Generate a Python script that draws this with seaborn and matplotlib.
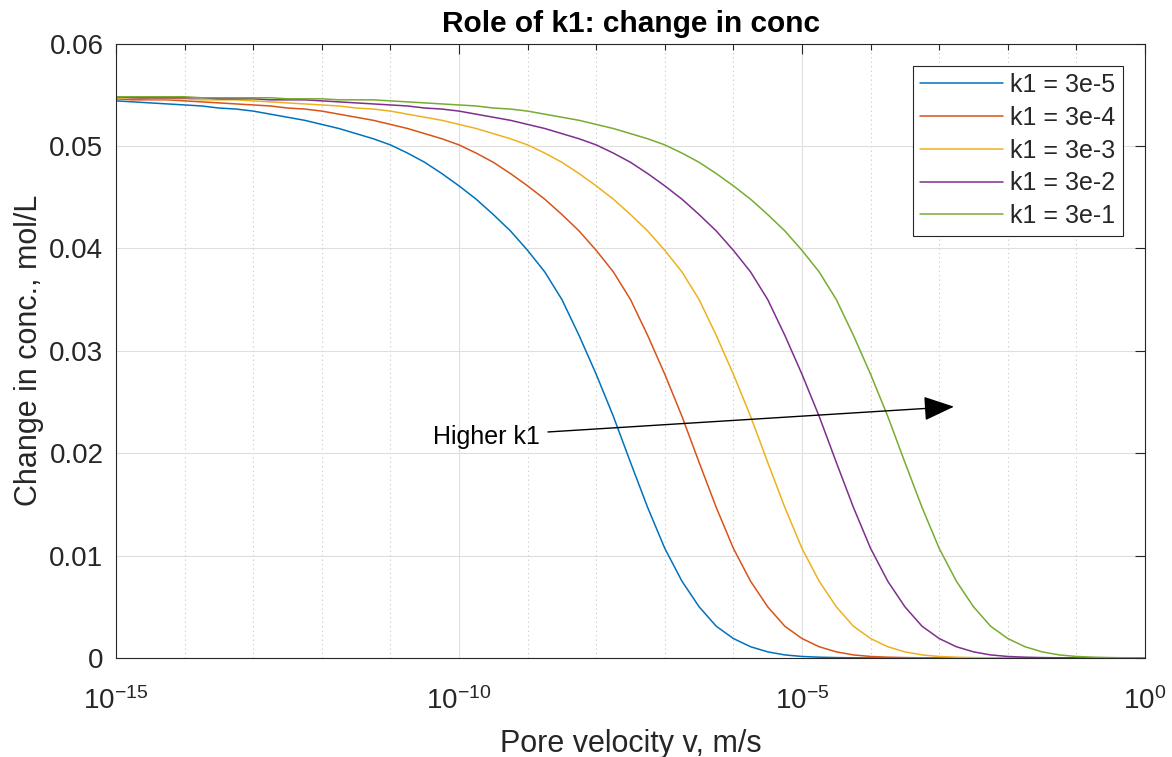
import numpy as np
import pandas as pd
import matplotlib
matplotlib.use("Agg")
import matplotlib.pyplot as plt
import seaborn as sns
from matplotlib.ticker import FixedLocator, FuncFormatter, NullFormatter

# ---------------- data ----------------
log_v = [-15.0, -14.75, -14.5, -14.25, -14.0, -13.75, -13.5, -13.25, -13.0, -12.75,
         -12.5, -12.25, -12.0, -11.75, -11.5, -11.25, -11.0, -10.75, -10.5, -10.25,
         -10.0, -9.75, -9.5, -9.25, -9.0, -8.75, -8.5, -8.25, -8.0, -7.75,
         -7.5, -7.25, -7.0, -6.75, -6.5, -6.25, -6.0, -5.75, -5.5, -5.25,
         -5.0, -4.75, -4.5, -4.25, -4.0, -3.75, -3.5, -3.25, -3.0, -2.75,
         -2.5, -2.25, -2.0, -1.75, -1.5, -1.25, -1.0, -0.75, -0.5, -0.25, 0.0]

conc_k1_3e5 = [0.0544, 0.0543, 0.0542, 0.0541, 0.0540, 0.0539, 0.0537, 0.0536, 0.0534, 0.0531,
               0.0528, 0.0525, 0.0521, 0.0517, 0.0512, 0.0507, 0.0501, 0.0493, 0.0484, 0.0473,
               0.0461, 0.0448, 0.0433, 0.0417, 0.0398, 0.0377, 0.0350, 0.0315, 0.0277, 0.0236,
               0.0191, 0.0147, 0.0107, 0.0075, 0.0050, 0.0031, 0.0019, 0.0011, 0.0006, 0.0003,
               0.00015, 0.00008, 0.00004, 0.00002, 0.00001, 0.0, 0.0, 0.0, 0.0, 0.0,
               0.0, 0.0, 0.0, 0.0, 0.0, 0.0, 0.0, 0.0, 0.0, 0.0, 0.0]

conc_k1_3e4 = [0.0546, 0.0545, 0.0545, 0.0545, 0.0544, 0.0543, 0.0542, 0.0541, 0.0540, 0.0539,
               0.0537, 0.0536, 0.0534, 0.0531, 0.0528, 0.0525, 0.0521, 0.0517, 0.0512, 0.0507,
               0.0501, 0.0493, 0.0484, 0.0473, 0.0461, 0.0448, 0.0433, 0.0417, 0.0398, 0.0377,
               0.0350, 0.0315, 0.0277, 0.0236, 0.0191, 0.0147, 0.0107, 0.0075, 0.0050, 0.0031,
               0.0019, 0.0011, 0.0006, 0.0003, 0.00015, 0.00008, 0.00004, 0.00002, 0.00001, 0.0,
               0.0, 0.0, 0.0, 0.0, 0.0, 0.0, 0.0, 0.0, 0.0, 0.0, 0.0]

conc_k1_3e3 = [0.0547, 0.0547, 0.0546, 0.0546, 0.0546, 0.0545, 0.0545, 0.0545, 0.0544, 0.0543,
               0.0542, 0.0541, 0.0540, 0.0539, 0.0537, 0.0536, 0.0534, 0.0531, 0.0528, 0.0525,
               0.0521, 0.0517, 0.0512, 0.0507, 0.0501, 0.0493, 0.0484, 0.0473, 0.0461, 0.0448,
               0.0433, 0.0417, 0.0398, 0.0377, 0.0350, 0.0315, 0.0277, 0.0236, 0.0191, 0.0147,
               0.0107, 0.0075, 0.0050, 0.0031, 0.0019, 0.0011, 0.0006, 0.0003, 0.00015, 0.00008,
               0.00004, 0.00002, 0.00001, 0.0, 0.0, 0.0, 0.0, 0.0, 0.0, 0.0, 0.0]

conc_k1_3e2 = [0.0548, 0.0547, 0.0547, 0.0547, 0.0547, 0.0547, 0.0546, 0.0546, 0.0546, 0.0545,
               0.0545, 0.0545, 0.0544, 0.0543, 0.0542, 0.0541, 0.0540, 0.0539, 0.0537, 0.0536,
               0.0534, 0.0531, 0.0528, 0.0525, 0.0521, 0.0517, 0.0512, 0.0507, 0.0501, 0.0493,
               0.0484, 0.0473, 0.0461, 0.0448, 0.0433, 0.0417, 0.0398, 0.0377, 0.0350, 0.0315,
               0.0277, 0.0236, 0.0191, 0.0147, 0.0107, 0.0075, 0.0050, 0.0031, 0.0019, 0.0011,
               0.0006, 0.0003, 0.00015, 0.00008, 0.00004, 0.00002, 0.00001, 0.0, 0.0, 0.0, 0.0]

conc_k1_3e1 = [0.0548, 0.0548, 0.0548, 0.0548, 0.0548, 0.0547, 0.0547, 0.0547, 0.0547, 0.0547,
               0.0546, 0.0546, 0.0546, 0.0545, 0.0545, 0.0545, 0.0544, 0.0543, 0.0542, 0.0541,
               0.0540, 0.0539, 0.0537, 0.0536, 0.0534, 0.0531, 0.0528, 0.0525, 0.0521, 0.0517,
               0.0512, 0.0507, 0.0501, 0.0493, 0.0484, 0.0473, 0.0461, 0.0448, 0.0433, 0.0417,
               0.0398, 0.0377, 0.0350, 0.0315, 0.0277, 0.0236, 0.0191, 0.0147, 0.0107, 0.0075,
               0.0050, 0.0031, 0.0019, 0.0011, 0.0006, 0.0003, 0.00015, 0.00008, 0.00004, 0.00002, 0.00001]

series_labels = ["k1 = 3e-5", "k1 = 3e-4", "k1 = 3e-3", "k1 = 3e-2", "k1 = 3e-1"]
series_values = [conc_k1_3e5, conc_k1_3e4, conc_k1_3e3, conc_k1_3e2, conc_k1_3e1]
series_colors = ["#0072BD", "#D95319", "#EDB120", "#7E2F8E", "#77AC30"]

x_major_ticks = [1e-15, 1e-10, 1e-5, 1e0]
y_ticks = [0.0, 0.01, 0.02, 0.03, 0.04, 0.05, 0.06]

# ---------------- build long-form table ----------------
rows = []
for lab, vals in zip(series_labels, series_values):
    assert len(vals) == len(log_v)
    for lv, c in zip(log_v, vals):
        rows.append({"v": 10.0 ** lv, "conc": c, "series": lab})
df = pd.DataFrame(rows)

# ---------------- style ----------------
sns.set_theme(style="white")
plt.rcParams["font.family"] = ["Liberation Sans", "DejaVu Sans"]
plt.rcParams["mathtext.fontset"] = "custom"
plt.rcParams["mathtext.rm"] = "Liberation Sans"
plt.rcParams["mathtext.it"] = "Liberation Sans:italic"
plt.rcParams["mathtext.bf"] = "Liberation Sans:bold"
plt.rcParams["axes.unicode_minus"] = False

W, H = 1172, 757
fig = plt.figure(figsize=(W / 100, H / 100), dpi=100)
fig.patch.set_facecolor("white")
ax = fig.add_axes([116 / W, (H - 658) / H, (1145 - 116) / W, (658 - 43.5) / H])

sns.lineplot(data=df, x="v", y="conc", hue="series", hue_order=series_labels,
             palette=dict(zip(series_labels, series_colors)),
             estimator=None, sort=False, lw=1.1, ax=ax)

ax.set_xscale("log")
ax.set_xlim(1e-15, 1e0)
ax.set_ylim(0, 0.06)

ax.xaxis.set_major_locator(FixedLocator(x_major_ticks))
ax.xaxis.set_minor_locator(FixedLocator([10.0 ** e for e in range(-15, 1)]))
ax.xaxis.set_major_formatter(FuncFormatter(
    lambda v, p: r"$\mathregular{10^{%d}}$" % int(round(np.log10(v)))))
ax.xaxis.set_minor_formatter(NullFormatter())
ax.yaxis.set_major_locator(FixedLocator(y_ticks))
ax.yaxis.set_major_formatter(FuncFormatter(lambda v, p: "0" if v == 0 else f"{v:.2f}"))

axis_col = "#262626"
ax.tick_params(which="both", direction="in", top=True, right=True,
               colors=axis_col, labelsize=20, width=0.8)
ax.tick_params(which="major", length=7)
ax.tick_params(which="minor", length=4)
ax.tick_params(axis="x", which="major", pad=21)
ax.tick_params(axis="y", which="major", pad=9)

for s in ax.spines.values():
    s.set_visible(True)
    s.set_color(axis_col)
    s.set_linewidth(0.8)

ax.set_axisbelow(True)
ax.grid(which="major", color="#dfdfdf", lw=0.8, ls="-")
ax.xaxis.grid(which="minor", color="#c4c4c4", lw=0.8, ls=(0, (1, 3)))

ax.set_xlabel("Pore velocity v, m/s", fontsize=22, color=axis_col, labelpad=10)
ax.set_ylabel("Change in conc., mol/L", fontsize=22, color=axis_col, labelpad=4)
ax.set_title("Role of k1: change in conc", fontsize=21.5, fontweight="bold",
             color="black", pad=8)

handles, labels = ax.get_legend_handles_labels()
leg = ax.legend(handles, labels, loc="upper right", fontsize=18, frameon=True,
                fancybox=False, edgecolor=axis_col, framealpha=1.0,
                handlelength=3.3, handletextpad=0.3, labelspacing=0.35,
                borderaxespad=0.88, borderpad=0.3)
leg.get_frame().set_linewidth(0.8)
for t in leg.get_texts():
    t.set_color(axis_col)

# arrow annotation "Higher k1"
ax.annotate("", xy=(1.64e-3, 0.02454), xytext=(1.98e-9, 0.02207),
            arrowprops=dict(arrowstyle="-|>,head_length=0.95,head_width=0.38",
                            color="black", lw=1.0, mutation_scale=20,
                            shrinkA=0, shrinkB=0))
ax.text(1.5e-9, 0.02158, "Higher k1", ha="right", va="center",
        fontsize=18, color="black")

fig.savefig("out.png", dpi=100)
